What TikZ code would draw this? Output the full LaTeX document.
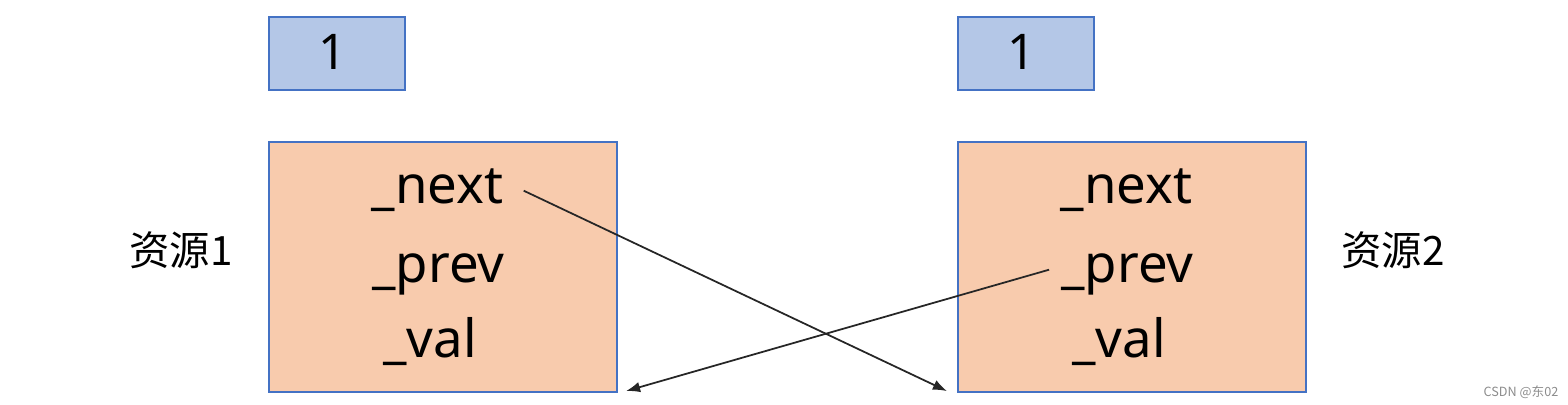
\documentclass[tikz,border=0pt]{standalone}
\usepackage{xcolor}
\usepackage{fontspec}
\setmainfont{Noto Sans}
\newfontfamily\cjkfont{Noto Sans CJK SC}
\usepackage{tikz}
\usetikzlibrary{arrows.meta, positioning}

\begin{document}
\begin{tikzpicture}[
  countbox/.style={draw=edgeblue, fill=countblue, line width=0.6pt, inner sep=0pt,
    minimum width=1.36cm, minimum height=0.73cm},
  nodebox/.style={draw=edgeblue, fill=nodeorange, line width=0.6pt, inner sep=0pt,
    minimum width=3.48cm, minimum height=2.50cm},
  field/.style={anchor=base, font=\fontsize{15}{18}\selectfont, text height=0.9em, text depth=0.2em},
  link/.style={-{Latex[length=4pt,width=3pt]}, line width=0.5pt, draw=black!85}
]
  \definecolor{countblue}{HTML}{B4C7E7}
  \definecolor{nodeorange}{HTML}{F8CBAD}
  \definecolor{edgeblue}{HTML}{4472C4}

  \useasboundingbox (0,0) rectangle (15.68,4.04);

  % reference counts
  \node[countbox] (count1) at (3.37,3.505) {};
  \node[countbox] (count2) at (10.26,3.505) {};
  \node[anchor=base, font=\fontsize{14}{16}\selectfont] (num1) at (3.33,3.34) {1};
  \node[anchor=base, font=\fontsize{14}{16}\selectfont] (num2) at (10.22,3.34) {1};

  % list nodes
  \node[nodebox] (box1) at (4.43,1.37) {};
  \node[nodebox] (box2) at (11.32,1.37) {};

  \node[field] (next1) at (4.375,2.01) {\_next};
  \node[field] (prev1) at (4.385,1.22) {\_prev};
  \node[field] (val1)  at (4.30,0.47) {\_val};
  \node[field] (next2) at (11.265,2.01) {\_next};
  \node[field] (prev2) at (11.275,1.22) {\_prev};
  \node[field] (val2)  at (11.19,0.47) {\_val};

  \node[anchor=base, font=\cjkfont\fontsize{11.5}{14}\selectfont] (res1) at (1.81,1.39) {资源1};
  \node[anchor=base, font=\cjkfont\fontsize{11.5}{14}\selectfont] (res2) at (13.93,1.39) {资源2};

  % links
  \coordinate (in1) at ([shift={(0.08,0.02)}]box1.south east);
  \coordinate (in2) at ([shift={(-0.10,0.02)}]box2.south west);
  \draw[link] ([xshift=0.08cm]next1.east) -- (in2);
  \draw[link] (prev2.west) -- (in1);

  \node[text=black!45, font=\cjkfont\fontsize{3.6}{4}\selectfont] (mark) at (15.21,0.12) {CSDN @东02};
\end{tikzpicture}
\end{document}
